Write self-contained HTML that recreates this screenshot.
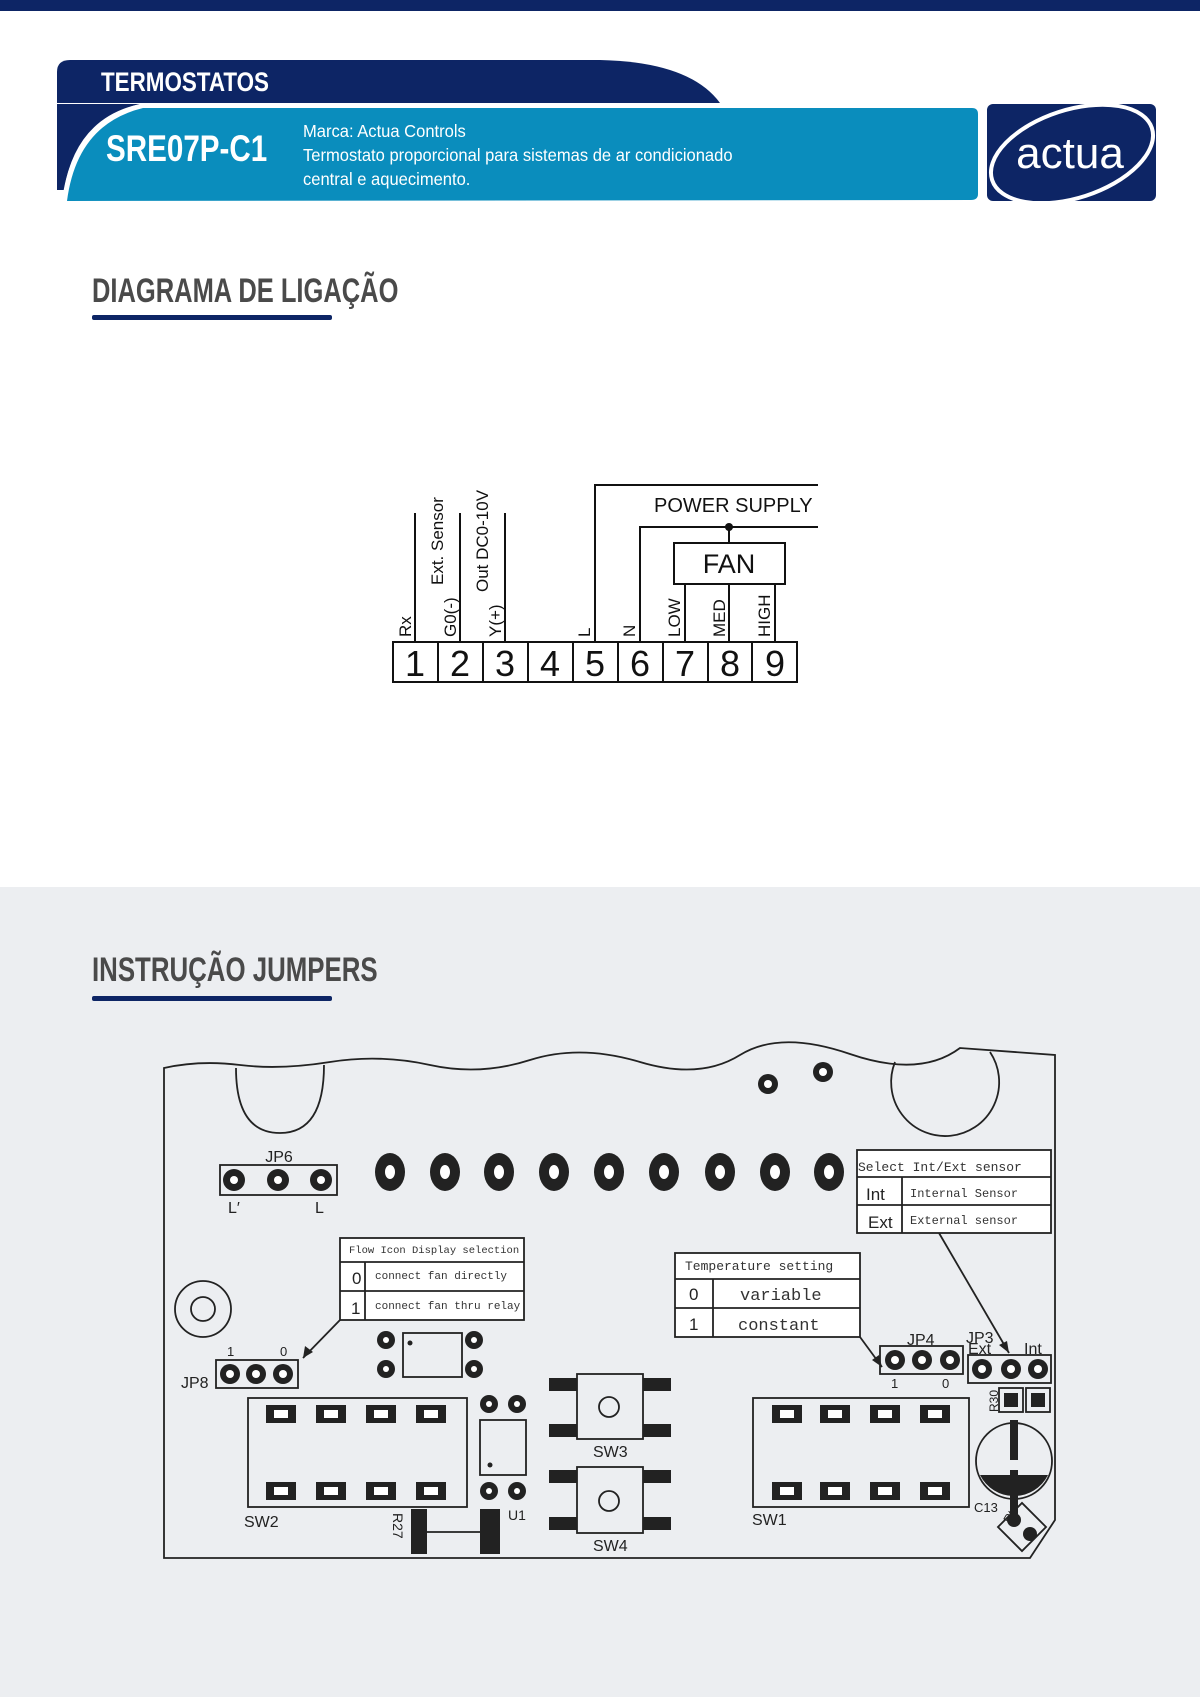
<!DOCTYPE html>
<html><head><meta charset="utf-8"><style>
html,body{margin:0;padding:0;background:#fff}
svg{display:block}
.h{font-family:"Liberation Sans Narrow","Liberation Sans",sans-serif;font-weight:bold}
.n{font-family:"Liberation Sans Narrow","Liberation Sans",sans-serif}
.a{font-family:"Liberation Sans",sans-serif}
.m{font-family:"Liberation Mono",monospace}
</style></head><body>
<svg width="1200" height="1697" viewBox="0 0 1200 1697" xmlns="http://www.w3.org/2000/svg">
<rect x="0" y="0" width="1200" height="11" fill="#0d2565"/>
<rect x="0" y="887" width="1200" height="810" fill="#eceef1"/>
<!-- banner -->
<path d="M57 72 Q57 60 70 60 L600 60 Q690 62 720 103 L57 103 Z" fill="#0d2565"/>
<path d="M57 103 L57 190 L64 190 Q76 118 140 104 L57 104 Z" fill="#0d2565"/>
<path d="M62 201 Q72 120 140 104 L972 104 Q979 104 979 111 L979 194 Q979 201 972 201 Z" fill="#fff"/>
<path d="M67 201 Q77 124 143 108 L972 108 Q978 108 978 114 L978 194 Q978 200 971 200 Z" fill="#0a8dbd"/>
<text transform="translate(101,91) scale(0.83,1)" class="h" font-size="27" fill="#fff">TERMOSTATOS</text>
<text transform="translate(106,161) scale(0.8,1)" class="h" font-size="37" fill="#fff">SRE07P-C1</text>
<g class="n" font-size="18" fill="#fff">
<text transform="translate(303,137) scale(0.92,1)">Marca: Actua Controls</text>
<text transform="translate(303,161) scale(0.92,1)">Termostato proporcional para sistemas de ar condicionado</text>
<text transform="translate(303,185) scale(0.92,1)">central e aquecimento.</text></g>
<!-- logo -->
<rect x="987" y="104" width="169" height="97" rx="6" fill="#0d2565"/>
<ellipse cx="1072" cy="154" rx="84" ry="44" transform="rotate(-18 1072 154)" fill="none" stroke="#fff" stroke-width="4"/>
<text x="1070" y="168" class="a" font-size="44" fill="#fff" text-anchor="middle">actua</text>
<!-- headings -->
<text transform="translate(92,302) scale(0.75,1)" class="h" font-size="34" fill="#4a4a4a">DIAGRAMA DE LIGAÇÃO</text>
<rect x="92" y="315" width="240" height="5" rx="2" fill="#0d2565"/>
<text transform="translate(92,981) scale(0.76,1)" class="h" font-size="34" fill="#4a4a4a">INSTRUÇÃO JUMPERS</text>
<rect x="92" y="996" width="240" height="5" rx="2" fill="#0d2565"/>
<!-- wiring -->
<g stroke="#111" stroke-width="2" fill="none">
<rect x="393" y="642" width="404" height="40"/>
<line x1="438" y1="642" x2="438" y2="682"/><line x1="483" y1="642" x2="483" y2="682"/>
<line x1="528" y1="642" x2="528" y2="682"/><line x1="573" y1="642" x2="573" y2="682"/>
<line x1="618" y1="642" x2="618" y2="682"/><line x1="663" y1="642" x2="663" y2="682"/>
<line x1="708" y1="642" x2="708" y2="682"/><line x1="752" y1="642" x2="752" y2="682"/>
<line x1="415" y1="513" x2="415" y2="642"/><line x1="460" y1="513" x2="460" y2="642"/><line x1="505" y1="513" x2="505" y2="642"/>
<polyline points="595,642 595,485 818,485"/><polyline points="640,642 640,527 818,527"/>
<line x1="729" y1="527" x2="729" y2="543"/>
<rect x="674" y="543" width="111" height="41"/>
<line x1="685" y1="584" x2="685" y2="642"/><line x1="729" y1="584" x2="729" y2="642"/><line x1="775" y1="584" x2="775" y2="642"/>
</g>
<circle cx="729" cy="527" r="4" fill="#111"/>
<g class="a" font-size="36" fill="#111" text-anchor="middle">
<text x="415" y="676">1</text><text x="460" y="676">2</text><text x="505" y="676">3</text><text x="550" y="676">4</text><text x="595" y="676">5</text><text x="640" y="676">6</text><text x="685" y="676">7</text><text x="730" y="676">8</text><text x="775" y="676">9</text></g>
<text x="729" y="573" class="a" font-size="27" fill="#111" text-anchor="middle">FAN</text>
<text x="654" y="512" class="a" font-size="20" fill="#111">POWER SUPPLY</text>
<g class="a" font-size="17" fill="#111">
<text transform="translate(411,637) rotate(-90)">Rx</text>
<text transform="translate(443,585) rotate(-90)">Ext. Sensor</text>
<text transform="translate(456,637) rotate(-90)">G0(-)</text>
<text transform="translate(488,592) rotate(-90)">Out DC0-10V</text>
<text transform="translate(501,637) rotate(-90)">Y(+)</text>
<text transform="translate(590,637) rotate(-90)">L</text>
<text transform="translate(635,637) rotate(-90)">N</text>
<text transform="translate(680,637) rotate(-90)">LOW</text>
<text transform="translate(725,637) rotate(-90)">MED</text>
<text transform="translate(770,637) rotate(-90)">HIGH</text></g>
<!-- PCB -->
<g stroke="#222" stroke-width="1.8" fill="none">
<path d="M164 1068 Q200 1060 240 1065 T330 1062 T430 1065 T530 1060 T640 1062 T740 1055 T850 1054 T960 1048 L1055 1055 L1055 1520 L1030 1558 L164 1558 Z" fill="#eceef1"/>
<path d="M236 1068 Q236 1133 280 1133 Q324 1133 324 1065"/>
<path d="M895 1062 A54 54 0 1 0 990 1052"/>
<circle cx="203" cy="1309" r="28"/><circle cx="203" cy="1309" r="12"/>
<rect x="220" y="1165" width="117" height="30"/>
<rect x="857" y="1150" width="194" height="83" fill="#fff"/><line x1="857" y1="1177" x2="1051" y2="1177"/><line x1="857" y1="1205" x2="1051" y2="1205"/><line x1="902" y1="1177" x2="902" y2="1233"/>
<rect x="340" y="1238" width="184" height="82" fill="#fff"/><line x1="340" y1="1262" x2="524" y2="1262"/><line x1="340" y1="1291" x2="524" y2="1291"/><line x1="365" y1="1262" x2="365" y2="1320"/>
<rect x="675" y="1253" width="185" height="84" fill="#fff"/><line x1="675" y1="1279" x2="860" y2="1279"/><line x1="675" y1="1308" x2="860" y2="1308"/><line x1="713" y1="1279" x2="713" y2="1337"/>
<rect x="216" y="1360" width="82" height="28"/>
<rect x="880" y="1346" width="83" height="28"/>
<rect x="968" y="1355" width="83" height="28"/>
<line x1="340" y1="1320" x2="303" y2="1358"/><line x1="860" y1="1337" x2="882" y2="1367"/><line x1="939" y1="1233" x2="1009" y2="1353"/>
<rect x="403" y="1333" width="59" height="44"/>
<rect x="248" y="1398" width="219" height="109"/>
<rect x="753" y="1398" width="216" height="109"/>
<rect x="480" y="1420" width="46" height="55"/>
<rect x="577" y="1374" width="66" height="65"/><circle cx="609" cy="1407" r="10"/>
<rect x="577" y="1467" width="66" height="66"/><circle cx="609" cy="1501" r="10"/>
<line x1="427" y1="1532" x2="480" y2="1532"/>
<circle cx="1014" cy="1461" r="38"/>
<rect x="999" y="1388" width="24" height="24"/><rect x="1026" y="1388" width="24" height="24"/>
<rect x="1005" y="1510" width="34" height="34" transform="rotate(45 1022 1527)"/>
</g>
<g fill="#222">
<polygon points="303,1358 305,1346 313,1352"/><polygon points="882,1367 872,1360 879,1355"/><polygon points="1009,1353 999,1345 1007,1341"/>
<rect x="549" y="1378" width="28" height="13"/><rect x="643" y="1378" width="28" height="13"/><rect x="549" y="1424" width="28" height="13"/><rect x="643" y="1424" width="28" height="13"/>
<rect x="549" y="1470" width="28" height="13"/><rect x="643" y="1470" width="28" height="13"/><rect x="549" y="1517" width="28" height="13"/><rect x="643" y="1517" width="28" height="13"/>
<rect x="411" y="1509" width="16" height="45"/><rect x="480" y="1509" width="20" height="45"/>
<rect x="1004" y="1393" width="14" height="14"/><rect x="1031" y="1393" width="14" height="14"/>
<rect x="1010" y="1420" width="8" height="40"/><rect x="1010" y="1470" width="8" height="50"/>
<path d="M980 1475 A38 38 0 0 0 1048 1475 Z"/>
<circle cx="410" cy="1343" r="2.5"/><circle cx="490" cy="1465" r="2.5"/>
</g>
<g fill="#222">
<ellipse cx="390" cy="1172" rx="15" ry="19"/>
<ellipse cx="445" cy="1172" rx="15" ry="19"/><ellipse cx="499" cy="1172" rx="15" ry="19"/><ellipse cx="554" cy="1172" rx="15" ry="19"/><ellipse cx="609" cy="1172" rx="15" ry="19"/><ellipse cx="664" cy="1172" rx="15" ry="19"/><ellipse cx="720" cy="1172" rx="15" ry="19"/><ellipse cx="775" cy="1172" rx="15" ry="19"/><ellipse cx="829" cy="1172" rx="15" ry="19"/>
<circle cx="234" cy="1180" r="11"/><circle cx="278" cy="1180" r="11"/><circle cx="321" cy="1180" r="11"/>
<circle cx="230" cy="1374" r="10"/><circle cx="256" cy="1374" r="10"/><circle cx="283" cy="1374" r="10"/>
<circle cx="895" cy="1360" r="10"/><circle cx="922" cy="1360" r="10"/><circle cx="950" cy="1360" r="10"/>
<circle cx="982" cy="1369" r="10"/><circle cx="1011" cy="1369" r="10"/><circle cx="1038" cy="1369" r="10"/>
<circle cx="768" cy="1084" r="10"/><circle cx="823" cy="1072" r="10"/>
<circle cx="386" cy="1340" r="9"/><circle cx="386" cy="1369" r="9"/><circle cx="474" cy="1340" r="9"/><circle cx="474" cy="1369" r="9"/>
<circle cx="489" cy="1404" r="9"/><circle cx="517" cy="1404" r="9"/><circle cx="489" cy="1491" r="9"/><circle cx="517" cy="1491" r="9"/>
<circle cx="1014" cy="1520" r="7"/><circle cx="1030" cy="1534" r="7"/>
</g>
<g fill="#fff">
<ellipse cx="390" cy="1172" rx="5" ry="7"/><ellipse cx="445" cy="1172" rx="5" ry="7"/><ellipse cx="499" cy="1172" rx="5" ry="7"/><ellipse cx="554" cy="1172" rx="5" ry="7"/><ellipse cx="609" cy="1172" rx="5" ry="7"/><ellipse cx="664" cy="1172" rx="5" ry="7"/><ellipse cx="720" cy="1172" rx="5" ry="7"/><ellipse cx="775" cy="1172" rx="5" ry="7"/><ellipse cx="829" cy="1172" rx="5" ry="7"/>
<circle cx="234" cy="1180" r="4"/><circle cx="278" cy="1180" r="4"/><circle cx="321" cy="1180" r="4"/>
<circle cx="230" cy="1374" r="4"/><circle cx="256" cy="1374" r="4"/><circle cx="283" cy="1374" r="4"/>
<circle cx="895" cy="1360" r="4"/><circle cx="922" cy="1360" r="4"/><circle cx="950" cy="1360" r="4"/>
<circle cx="982" cy="1369" r="4"/><circle cx="1011" cy="1369" r="4"/><circle cx="1038" cy="1369" r="4"/>
<circle cx="768" cy="1084" r="4"/><circle cx="823" cy="1072" r="4"/>
<circle cx="386" cy="1340" r="3"/><circle cx="386" cy="1369" r="3"/><circle cx="474" cy="1340" r="3"/><circle cx="474" cy="1369" r="3"/>
<circle cx="489" cy="1404" r="3"/><circle cx="517" cy="1404" r="3"/><circle cx="489" cy="1491" r="3"/><circle cx="517" cy="1491" r="3"/>
</g>
<g fill="#222">
<rect x="266" y="1405" width="30" height="18"/><rect x="316" y="1405" width="30" height="18"/><rect x="366" y="1405" width="30" height="18"/><rect x="416" y="1405" width="30" height="18"/>
<rect x="266" y="1482" width="30" height="18"/><rect x="316" y="1482" width="30" height="18"/><rect x="366" y="1482" width="30" height="18"/><rect x="416" y="1482" width="30" height="18"/>
<rect x="772" y="1405" width="30" height="18"/><rect x="820" y="1405" width="30" height="18"/><rect x="870" y="1405" width="30" height="18"/><rect x="920" y="1405" width="30" height="18"/>
<rect x="772" y="1482" width="30" height="18"/><rect x="820" y="1482" width="30" height="18"/><rect x="870" y="1482" width="30" height="18"/><rect x="920" y="1482" width="30" height="18"/>
</g>
<g fill="#fff">
<rect x="274" y="1410" width="14" height="8"/><rect x="324" y="1410" width="14" height="8"/><rect x="374" y="1410" width="14" height="8"/><rect x="424" y="1410" width="14" height="8"/>
<rect x="274" y="1487" width="14" height="8"/><rect x="324" y="1487" width="14" height="8"/><rect x="374" y="1487" width="14" height="8"/><rect x="424" y="1487" width="14" height="8"/>
<rect x="780" y="1410" width="14" height="8"/><rect x="828" y="1410" width="14" height="8"/><rect x="878" y="1410" width="14" height="8"/><rect x="928" y="1410" width="14" height="8"/>
<rect x="780" y="1487" width="14" height="8"/><rect x="828" y="1487" width="14" height="8"/><rect x="878" y="1487" width="14" height="8"/><rect x="928" y="1487" width="14" height="8"/>
</g>
<g class="a" fill="#222" font-size="16">
<text x="279" y="1162" text-anchor="middle">JP6</text><text x="228" y="1213">L′</text><text x="315" y="1213">L</text>
<text x="181" y="1388">JP8</text><text x="227" y="1356" font-size="13">1</text><text x="280" y="1356" font-size="13">0</text>
<text x="907" y="1345">JP4</text><text x="891" y="1388" font-size="13">1</text><text x="942" y="1388" font-size="13">0</text>
<text x="966" y="1343">JP3</text><text x="968" y="1354">Ext</text><text x="1024" y="1354">Int</text>
<text x="244" y="1527">SW2</text><text x="752" y="1525">SW1</text><text x="593" y="1457">SW3</text><text x="593" y="1551">SW4</text>
<text x="508" y="1520" font-size="14">U1</text><text x="974" y="1512" font-size="13">C13</text>
<text transform="translate(393,1513) rotate(90)" font-size="14">R27</text>
<text transform="translate(998,1412) rotate(-90)" font-size="12">R30</text>
<text transform="translate(1010,1524) rotate(-60)" font-size="12">Rt</text>
<text x="866" y="1200" font-size="17">Int</text><text x="868" y="1228" font-size="17">Ext</text>
<text x="352" y="1284" font-size="17">0</text><text x="351" y="1314" font-size="17">1</text>
<text x="689" y="1300" font-size="17">0</text><text x="689" y="1330" font-size="17">1</text>
</g>
<g class="m" fill="#333" font-size="12">
<text x="858" y="1171" font-size="13">Select  Int/Ext  sensor</text>
<text x="910" y="1197">Internal Sensor</text><text x="910" y="1224">External  sensor</text>
<text x="349" y="1253" font-size="10.5">Flow Icon Display selection</text>
<text x="375" y="1279" font-size="11">connect fan directly</text><text x="375" y="1309" font-size="11">connect fan thru relay</text>
<text x="685" y="1270" font-size="13">Temperature setting</text>
<text x="740" y="1300" font-size="17">variable</text><text x="738" y="1330" font-size="17">constant</text>
</g>
</svg>
</body></html>
